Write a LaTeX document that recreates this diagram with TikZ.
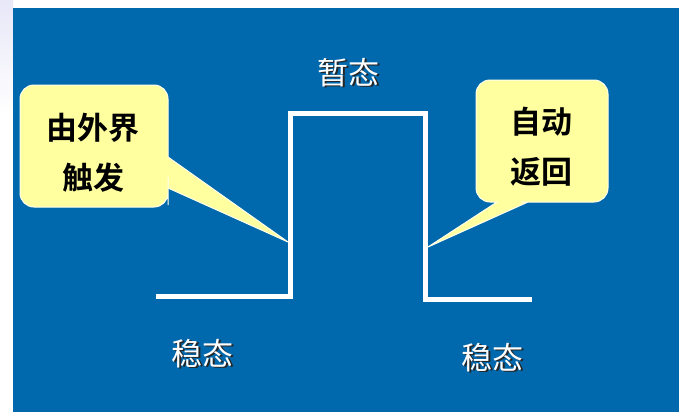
\documentclass[tikz,border=0pt]{standalone}
\usepackage{fontspec}
\newfontfamily\cjk{Noto Sans CJK SC}
\newfontfamily\cjkbold{Noto Sans CJK SC}[BoldFont={* Bold}]
\definecolor{slideblue}{RGB}{0,104,172}
\definecolor{calloutyellow}{RGB}{255,255,160}
\tikzset{
  wave/.style={draw=white, line width=5pt, line join=miter},
  callout/.style={fill=calloutyellow, draw=white!80!calloutyellow, line width=1pt},
  calltext/.style={font=\cjkbold\bfseries\fontsize{31}{50}\selectfont, text=black, align=center, inner sep=0pt},
  statetext/.style={font=\cjk\fontsize{31}{37}\selectfont, text=white, inner sep=0pt},
  stateshadow/.style={font=\cjk\fontsize{31}{37}\selectfont, text=black!85, inner sep=0pt},
}
\begin{document}
\begin{tikzpicture}[x=1pt,y=-1pt]
\useasboundingbox (0,0) rectangle (679,412);
\fill[white] (0,0) rectangle (679,412);
\shade[top color=gray!45!blue!12, bottom color=white] (0,0) rectangle (13,115);
\fill[slideblue] (13,8) rectangle (679,412);
% waveform
\coordinate (w0) at (156,296);
\coordinate (w1) at (290,296);
\coordinate (w2) at (290,113);
\coordinate (w3) at (425,113);
\coordinate (w4) at (425,299);
\coordinate (w5) at (532,299);
\draw[wave] (w0) -- (w1) -- (w2) -- (w3) -- (w4) -- (w5);
% left callout
\path[callout] (288,242) -- (168,157) -- (168,130) [rounded corners=14pt] -- (168,85) -- (20,85) -- (20,207) -- (168,207) -- (168,191) [sharp corners] -- (168,188) -- cycle;
\node[calltext] (trig) at (93,153) {由外界\\触发};
% right callout
\path[callout] (428,247) -- (497,202) -- (494,202) [rounded corners=14pt] -- (476,202) -- (476,80) -- (608,80) -- (608,202) -- (535,202) [sharp corners] -- (528,202) -- cycle;
\node[calltext] (ret) at (541,147) {自动\\返回};
% state labels with shadow
\node[stateshadow] at (350,74) {暂态};
\node[statetext] (temp) at (348.5,72.5) {暂态};
\node[stateshadow] at (204,355) {稳态};
\node[statetext] (stab1) at (202.5,353.5) {稳态};
\node[stateshadow] at (494,359) {稳态};
\node[statetext] (stab2) at (492.5,357.5) {稳态};
\end{tikzpicture}
\end{document}
